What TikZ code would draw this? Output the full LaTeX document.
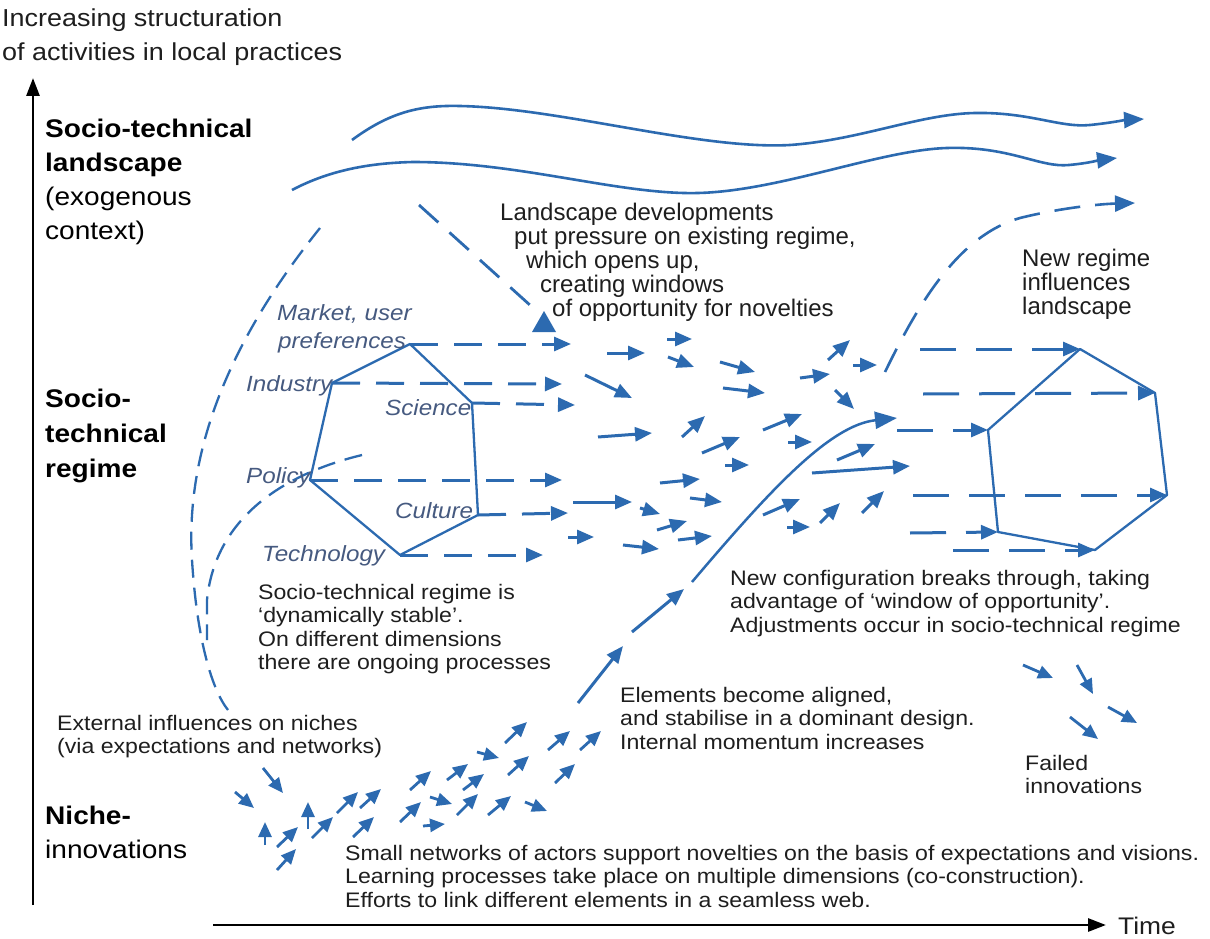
\documentclass[tikz,border=0pt]{standalone}
\usepackage{fontspec}
\setmainfont{Liberation Sans}
\newfontfamily\bodyf[FakeStretch=1.1]{Liberation Sans}
\newfontfamily\narrowf{Liberation Sans}
\usetikzlibrary{arrows.meta}
\definecolor{mblue}{RGB}{44,106,176}
\definecolor{lblue}{RGB}{70,90,128}
\definecolor{txt}{RGB}{30,30,30}
\tikzset{
  ar/.style={draw=mblue, line width=3pt, -{Triangle[length=17pt,width=14pt]}},
  nar/.style={draw=mblue, line width=2.8pt, -{Triangle[length=15pt,width=13pt]}},
  dar/.style={ar, dash pattern=on 28pt off 16pt},
  hexline/.style={draw=mblue, line width=2.3pt, line join=round},
  wavearr/.style={draw=mblue, line width=2.6pt, -{Triangle[length=20pt,width=16pt]}},
  thindash/.style={draw=mblue, line width=2.3pt, dash pattern=on 18pt off 10pt},
  bodytxt/.style={font=\bodyf\fontsize{21}{23.5}\selectfont, text=txt, align=left, inner sep=0pt, anchor=north west},
  narrowtxt/.style={font=\narrowf\fontsize{24}{24}\selectfont, text=txt, align=left, inner sep=0pt, anchor=north west},
  bigtxt/.style={font=\bodyf\fontsize{25.5}{34}\selectfont, text=black, align=left, inner sep=0pt, anchor=north west},
  itxt/.style={font=\bodyf\fontsize{22}{28}\selectfont\itshape, text=lblue, inner sep=0pt, anchor=base west}
}
\begin{document}
\begin{tikzpicture}[x=1pt,y=-1pt]
\useasboundingbox (0,0) rectangle (1210,939);
\fill[white] (0,0) rectangle (1210,939);

% axes
\draw[line width=2.8pt, black, -{Triangle[length=18pt,width=13pt]}] (33,905) -- (33,78);
\draw[line width=2.8pt, black, -{Triangle[length=18pt,width=13pt]}] (213,925) -- (1106,925);
\node[font=\bodyf\fontsize{24}{28}\selectfont, text=txt, inner sep=0pt, anchor=base west] (time) at (1118,934) {Time};

% axis label
\node[font=\bodyf\fontsize{24.5}{34}\selectfont, text=txt, align=left, inner sep=0pt, anchor=north west] (ylab) at (2,9) {Increasing structuration\\of activities in local practices};

% level labels
\node[bigtxt] (land) at (45,118.5) {\textbf{Socio-technical}\\\textbf{landscape}\\(exogenous\\context)};
\node[bigtxt, font=\bodyf\fontsize{25.5}{35}\selectfont] (reg) at (45,388.5) {\textbf{Socio-}\\\textbf{technical}\\\textbf{regime}};
\node[bigtxt] (nich) at (45,805.5) {\textbf{Niche-}\\innovations};

% landscape waves
\draw[wavearr] (352,140) .. controls (390,112) and (420,105) .. (460,106)
  .. controls (560,108) and (700,150) .. (790,145)
  .. controls (860,140) and (920,114) .. (975,113)
  .. controls (1030,112) and (1060,128) .. (1090,125)
  .. controls (1110,123) and (1125,120) .. (1144,119);
\draw[wavearr] (292,190) .. controls (330,170) and (370,163) .. (413,162)
  .. controls (520,162) and (620,195) .. (698,193)
  .. controls (780,191) and (880,150) .. (947,148)
  .. controls (1010,146) and (1040,168) .. (1069,165)
  .. controls (1090,163) and (1100,160) .. (1117,158);
\draw[wavearr, dash pattern=on 26pt off 15pt] (885,372) .. controls (920,300) and (960,235) .. (1020,218)
  .. controls (1060,208) and (1100,204) .. (1135,203);

% landscape pressure dashed arrow
\draw[mblue, line width=2.8pt, dash pattern=on 26pt off 15pt] (419,205) -- (531,306);
\fill[mblue] (544,311) -- (556,332) -- (532,332) -- cycle;

% text blocks
\node[narrowtxt] (ldev) at (500,203) {Landscape developments\\\hspace*{14pt}put pressure on existing regime,\\\hspace*{26pt}which opens up,\\\hspace*{40pt}creating windows\\\hspace*{52pt}of opportunity for novelties};
\node[narrowtxt] (nreg) at (1022,249) {New regime\\influences\\landscape};

% left dashed curves
\draw[thindash] (320,228) .. controls (230,340) and (185,450) .. (192,560)
  .. controls (197,640) and (212,690) .. (228,710);
\draw[thindash] (362,455) .. controls (280,475) and (215,520) .. (207,600) -- (207,640);

% left hexagon
\coordinate (LT) at (410,344);
\coordinate (LI) at (332,383);
\coordinate (LS) at (472,403);
\coordinate (LP) at (310,480);
\coordinate (LC) at (478,515);
\coordinate (LB) at (400,555);
\draw[hexline] (LT) -- (LI) -- (LP) -- (LB) -- (LC) -- (LS) -- cycle;
\coordinate (LTe) at (571,344);
\coordinate (LIe) at (562,384);
\coordinate (LSe) at (575,405);
\coordinate (LPe) at (562,480);
\coordinate (LCe) at (568,513);
\coordinate (LBe) at (543,555);
\draw[dar] (LT) -- (LTe);
\draw[dar] (LI) -- (LIe);
\draw[dar] (LS) -- (LSe);
\draw[dar] (LP) -- (LPe);
\draw[dar] (LC) -- (LCe);
\draw[dar] (LB) -- (LBe);

\node[itxt] (lmk) at (277,320) {Market, user};
\node[itxt] (lpr) at (278,348) {preferences};
\node[itxt] (lin) at (246,391) {Industry};
\node[itxt] (lsc) at (385,415) {Science};
\node[itxt] (lpo) at (246,483) {Policy};
\node[itxt] (lcu) at (395,518) {Culture};
\node[itxt] (lte) at (262,561) {Technology};

% right hexagon
\coordinate (RT) at (1080,349);
\coordinate (RA) at (1155,393);
\coordinate (RB) at (1167,495);
\coordinate (RC) at (1095,550);
\coordinate (RD) at (998,532);
\coordinate (RE) at (988,430);
\draw[hexline] (RT) -- (RA) -- (RB) -- (RC) -- (RD) -- (RE) -- cycle;
\coordinate (RTs) at (920,349);
\coordinate (RAs) at (923,394);
\coordinate (REs) at (897,430);
\coordinate (RBs) at (913,495);
\coordinate (RDs) at (910,533);
\coordinate (RCs) at (953,550);
\draw[dar, dash pattern=on 36pt off 20pt] (RTs) -- (RT);
\draw[dar, dash pattern=on 36pt off 20pt] (RAs) -- (RA);
\draw[dar, dash pattern=on 36pt off 20pt] (REs) -- (RE);
\draw[dar, dash pattern=on 36pt off 20pt] (RBs) -- (RB);
\draw[dar, dash pattern=on 36pt off 20pt] (RDs) -- (RD);
\draw[dar, dash pattern=on 36pt off 20pt] (RCs) -- (RC);

% regime small arrows
\foreach \a/\b/\c/\d in {607/353/645/353, 667/339/692/339, 668/357/694/367, 585/375/632/398,
  720/362/755/372, 723/388/765/393, 598/437/652/433, 682/437/705/416, 702/453/740/437,
  725/465/749/465, 660/483/700/479, 690/498/722/502, 573/502/632/502, 640/508/660/514,
  657/530/687/521, 568/537/594/537, 623/545/659/549, 678/540/712/536, 800/378/830/374,
  828/360/850/340, 853/365/877/365, 835/390/854/409, 763/430/802/414, 788/442/812/442,
  837/460/875/444, 812/473/910/466, 763/515/800/499, 787/527/810/527, 820/523/840/503,
  862/513/884/491}
  \draw[ar] (\a,\b) -- (\c,\d);

% breakthrough trajectory
\draw[ar] (578,703) -- (623,646);
\draw[ar] (632,632) -- (684,589);
\draw[draw=mblue, line width=2.5pt, -{Triangle[length=22pt,width=17pt]}] (692,582) .. controls (770,490) and (830,425) .. (897,418);

% niche arrows
\foreach \a/\b/\c/\d in {235/792/254/808, 263/768/283/793, 265/845/265/822, 277/847/298/827,
  277/870/296/849, 308/829/308/802, 312/838/333/817, 337/813/358/792, 360/808/381/789,
  353/837/374/817, 400/822/421/802, 410/790/431/771, 423/826/445/824, 430/797/452/804,
  447/780/468/764, 463/790/484/774, 457/815/478/794, 488/815/511/796, 477/752/499/758,
  505/743/527/722, 508/775/529/756, 525/802/547/811, 548/750/570/731, 555/783/575/764,
  580/750/601/731}
  \draw[nar] (\a,\b) -- (\c,\d);

% failed innovations arrows
\foreach \a/\b/\c/\d in {1023/665/1053/678, 1077/665/1093/694, 1108/707/1137/723, 1070/717/1098/739}
  \draw[nar] (\a,\b) -- (\c,\d);

% body texts
\node[bodytxt] (stab) at (258,584) {Socio-technical regime is\\‘dynamically stable’.\\On different dimensions\\there are ongoing processes};
\node[bodytxt] (nconf) at (730,570) {New configuration breaks through, taking\\advantage of ‘window of opportunity’.\\Adjustments occur in socio-technical regime};
\node[bodytxt] (elem) at (620,687) {Elements become aligned,\\and stabilise in a dominant design.\\Internal momentum increases};
\node[bodytxt] (ext) at (57,715) {External influences on niches\\(via expectations and networks)};
\node[bodytxt] (fail) at (1025,755) {Failed\\innovations};
\node[bodytxt] (small) at (345,845) {Small networks of actors support novelties on the basis of expectations and visions.\\Learning processes take place on multiple dimensions (co-construction).\\Efforts to link different elements in a seamless web.};
\end{tikzpicture}
\end{document}
